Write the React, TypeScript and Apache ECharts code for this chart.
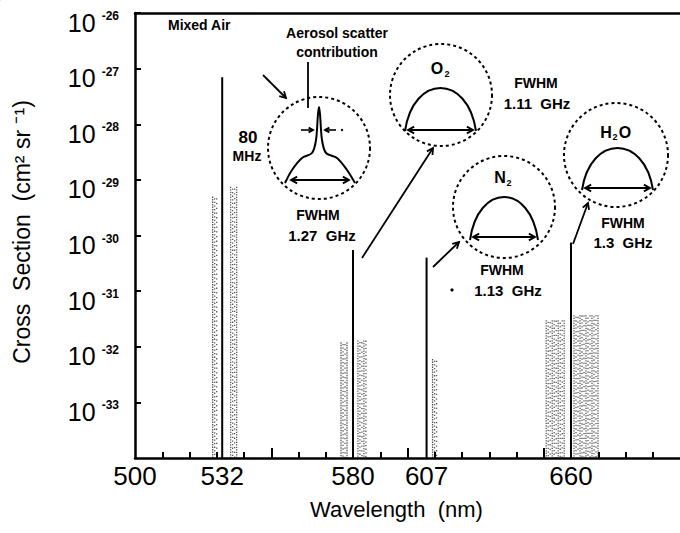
import React, { useEffect, useRef } from "react";
import * as echarts from "echarts";

// ---- data ----
const X_MIN = 500;
const X_MAX = 700;
const Y_MIN = 1e-34;
const Y_MAX = 1e-26;
const X_LABELS = [500, 532, 580, 607, 660];
const X_MINOR_TICKS = [510, 520, 530, 540, 560, 570, 580, 590, 610, 620, 630, 640, 660, 670, 680, 690];
const X_MAJOR_TICKS = [550, 600, 650];

// strong Raman / Rayleigh lines
const LINE_WAVELENGTHS = [532, 580, 607, 660];
const LINE_PEAKS = [7e-28, 5.5e-31, 4e-31, 7.5e-31];

// rotational Raman wings (speckled bands)
const BAND_START = [528.5, 535.1, 575.6, 581.8, 609.2, 650.9, 661.1];
const BAND_END = [530.0, 537.3, 578.5, 584.8, 610.7, 658.2, 670.6];
const BAND_TOP = [5e-30, 7.5e-30, 1.2e-32, 1.3e-32, 6e-33, 3e-32, 3.7e-32];

const FONT = "'Liberation Sans', Arial, sans-serif";

function arrowHead(x1: number, y1: number, x2: number, y2: number, len = 7, spread = 0.5) {
  const a = Math.atan2(y2 - y1, x2 - x1);
  return {
    type: "polyline",
    shape: {
      points: [
        [x2 - len * Math.cos(a - spread), y2 - len * Math.sin(a - spread)],
        [x2, y2],
        [x2 - len * Math.cos(a + spread), y2 - len * Math.sin(a + spread)],
      ],
    },
    style: { stroke: "#000", fill: "none", lineWidth: 1.8 },
  };
}

function arrow(x1: number, y1: number, x2: number, y2: number, lw = 1.8, len = 7) {
  return [
    { type: "line", shape: { x1, y1, x2, y2 }, style: { stroke: "#000", lineWidth: lw } },
    arrowHead(x1, y1, x2, y2, len),
  ];
}

function doubleArrow(x1: number, x2: number, y: number) {
  return [
    { type: "line", shape: { x1, y1: y, x2, y2: y }, style: { stroke: "#000", lineWidth: 2 } },
    arrowHead(x2, y, x1, y, 7),
    arrowHead(x1, y, x2, y, 7),
  ];
}

function dashedCircle(cx: number, cy: number, r: number) {
  return {
    type: "circle",
    shape: { cx, cy, r },
    style: { stroke: "#000", fill: "none", lineWidth: 2, lineDash: [3, 3] },
  };
}

function hump(x0: number, x1: number, yBase: number, h: number) {
  const w = x1 - x0;
  const c = h / 0.75;
  return {
    type: "bezierCurve",
    shape: {
      x1: x0,
      y1: yBase,
      x2: x1,
      y2: yBase,
      cpx1: x0 + 0.12 * w,
      cpy1: yBase - c,
      cpx2: x1 - 0.12 * w,
      cpy2: yBase - c,
    },
    style: { stroke: "#000", fill: "none", lineWidth: 2 },
  };
}

function txt(text: string, x: number, y: number, size = 14, align = "center") {
  return {
    type: "text",
    x,
    y,
    style: {
      text,
      fill: "#000",
      font: `bold ${size}px ${FONT}`,
      textAlign: align,
      textVerticalAlign: "middle",
    },
  };
}

export default function App() {
  const ref = useRef<HTMLDivElement>(null);

  useEffect(() => {
    if (!ref.current) return;
    const chart = echarts.init(ref.current, null, { renderer: "svg" });

    const lineData = LINE_WAVELENGTHS.map((w, i) => [w, LINE_PEAKS[i]]);
    const bandData = BAND_START.map((s, i) => [s, BAND_END[i], BAND_TOP[i]]);

    const graphics: any[] = [
      {
        type: "text",
        x: 22,
        y: 232,
        rotation: Math.PI / 2,
        style: {
          text: "Cross  Section  (cm² sr ⁻¹)",
          fill: "#000",
          font: `23px ${FONT}`,
          textAlign: "center",
          textVerticalAlign: "middle",
        },
      },
      txt("Mixed Air", 168, 25, 14, "left"),
      {
        type: "text",
        x: 337,
        y: 42,
        style: {
          text: "Aerosol scatter\ncontribution",
          fill: "#000",
          font: `bold 14px ${FONT}`,
          lineHeight: 19,
          textAlign: "center",
          textVerticalAlign: "middle",
        },
      },
      { type: "line", shape: { x1: 308, y1: 62, x2: 308, y2: 108 }, style: { stroke: "#000", lineWidth: 1.8 } },
      ...arrow(263, 75, 286, 98),
      txt("80", 248, 137, 17),
      txt("MHz", 247, 156, 14),
      // aerosol inset
      dashedCircle(319, 148, 51),
      {
        type: "polyline",
        shape: {
          smooth: 0.3,
          points: [
            [285, 183], [292, 170], [302, 158], [312, 153], [316, 140], [318, 114], [319, 107],
            [320, 114], [322, 140], [326, 153], [337, 158], [347, 170], [355, 183],
          ],
        },
        style: { stroke: "#000", fill: "none", lineWidth: 2 },
      },
      ...doubleArrow(291, 349, 180),
      ...arrow(301, 130, 313, 130, 1.6, 5),
      ...arrow(336, 130, 325, 130, 1.6, 5),
      { type: "circle", shape: { cx: 342, cy: 130, r: 1.2 }, style: { fill: "#000" } },
      txt("FWHM", 318, 215, 14),
      txt("1.27  GHz", 322, 235, 15),
      // O2 inset
      dashedCircle(441, 95, 51),
      hump(405, 476, 131, 43),
      ...doubleArrow(408, 473, 130),
      txt("O", 437, 68, 16),
      txt("2", 447, 74, 9),
      ...arrow(362, 258, 433, 148),
      txt("FWHM", 536, 83, 14),
      txt("1.11  GHz", 537, 103, 15),
      // N2 inset
      dashedCircle(504, 207, 51),
      hump(470, 538, 240, 43),
      ...doubleArrow(473, 535, 237),
      txt("N", 500, 177, 16),
      txt("2", 509, 183, 9),
      ...arrow(433, 267, 459, 242),
      txt("FWHM", 502, 270, 14),
      txt("1.13  GHz", 508, 290, 15),
      { type: "circle", shape: { cx: 452, cy: 290, r: 1.6 }, style: { fill: "#000" } },
      // H2O inset
      dashedCircle(616, 155, 52),
      hump(582, 653, 190, 42),
      ...doubleArrow(585, 650, 188),
      txt("H", 606, 132, 16),
      txt("2", 615, 137, 9),
      txt("O", 625, 132, 16),
      ...arrow(573, 244, 588, 203),
      txt("FWHM", 623, 223, 14),
      txt("1.3  GHz", 623, 242, 15),
    ];

    chart.setOption({
      animation: false,
      backgroundColor: "#fff",
      grid: {
        left: 135,
        right: 0,
        top: 13,
        bottom: 75,
        show: false,
        containLabel: false,
        outerBoundsMode: "none",
      },
      xAxis: [
        {
          type: "value",
          min: X_MIN,
          max: X_MAX,
          position: "bottom",
          axisLine: { show: true, onZero: false, lineStyle: { color: "#000", width: 2.5 } },
          axisTick: {
            show: true,
            inside: true,
            length: 6,
            customValues: X_MINOR_TICKS,
            lineStyle: { color: "#000", width: 2 },
          },
          axisLabel: {
            customValues: X_LABELS,
            color: "#000",
            fontSize: 26,
            fontFamily: FONT,
            margin: 5,
          },
          splitLine: { show: false },
          name: "Wavelength  (nm)",
          nameLocation: "middle",
          nameGap: 40,
          nameTextStyle: { fontSize: 22, fontFamily: FONT, color: "#000", padding: [0, 22, 0, 0] },
        },
        {
          type: "value",
          min: X_MIN,
          max: X_MAX,
          position: "bottom",
          axisLine: { show: false, onZero: false },
          axisTick: {
            show: true,
            inside: true,
            length: 10,
            customValues: X_MAJOR_TICKS,
            lineStyle: { color: "#000", width: 2 },
          },
          axisLabel: { show: false },
          splitLine: { show: false },
        },
        {
          type: "value",
          min: X_MIN,
          max: X_MAX,
          position: "top",
          axisLine: { show: true, onZero: false, lineStyle: { color: "#000", width: 2.5 } },
          axisTick: { show: false },
          axisLabel: { show: false },
          splitLine: { show: false },
        },
      ],
      yAxis: {
        type: "log",
        logBase: 10,
        min: Y_MIN,
        max: Y_MAX,
        splitNumber: 8,
        axisLine: { show: true, onZero: false, lineStyle: { color: "#000", width: 2.5 } },
        axisTick: { show: true, inside: true, length: 6, lineStyle: { color: "#000", width: 2 } },
        splitLine: { show: false },
        axisLabel: {
          margin: 16,
          padding: [19, 0, 0, 0],
          formatter: (v: number) => {
            const e = Math.round(Math.log10(v));
            if (e === -34) return "";
            return `{b|10}{s|${e}}`;
          },
          rich: {
            b: { fontSize: 25, fontFamily: FONT, color: "#000" },
            s: {
              fontSize: 12,
              fontWeight: "bold",
              fontFamily: FONT,
              color: "#000",
              verticalAlign: "top",
              padding: [0, 0, 0, 6],
            },
          },
        },
      },
      series: [
        {
          type: "custom",
          name: "bands",
          data: bandData,
          encode: { x: [0, 1], y: 2 },
          renderItem: (params: any, api: any) => {
            const a = api.coord([api.value(0), api.value(2)]);
            const b = api.coord([api.value(1), Y_MIN]);
            const children: any[] = [];
            let k = 0;
            for (let x = a[0]; x <= b[0] + 0.01; x += 2) {
              children.push({
                type: "line",
                shape: { x1: x, y1: a[1], x2: x, y2: b[1] },
                style: {
                  stroke: "#111",
                  lineWidth: 1.3,
                  lineDash: [1.3, 1.2 + (k % 3) * 1.1],
                  lineDashOffset: k * 1.7,
                  opacity: 0.7,
                },
              });
              k++;
            }
            return { type: "group", children };
          },
          silent: true,
        },
        {
          type: "custom",
          name: "lines",
          data: lineData,
          encode: { x: 0, y: 1 },
          renderItem: (params: any, api: any) => {
            const p0 = api.coord([api.value(0), api.value(1)]);
            const p1 = api.coord([api.value(0), Y_MIN]);
            return {
              type: "line",
              shape: { x1: p0[0], y1: p0[1], x2: p1[0], y2: p1[1] },
              style: { stroke: "#000", lineWidth: 2 },
            };
          },
          silent: true,
        },
      ],
      graphic: { elements: graphics.map((g) => ({ ...g, silent: true })) },
    });

    return () => chart.dispose();
  }, []);

  return (
    <div
      ref={ref}
      style={{ position: "fixed", left: 0, top: 0, width: 680, height: 533, background: "#fff" }}
    />
  );
}
